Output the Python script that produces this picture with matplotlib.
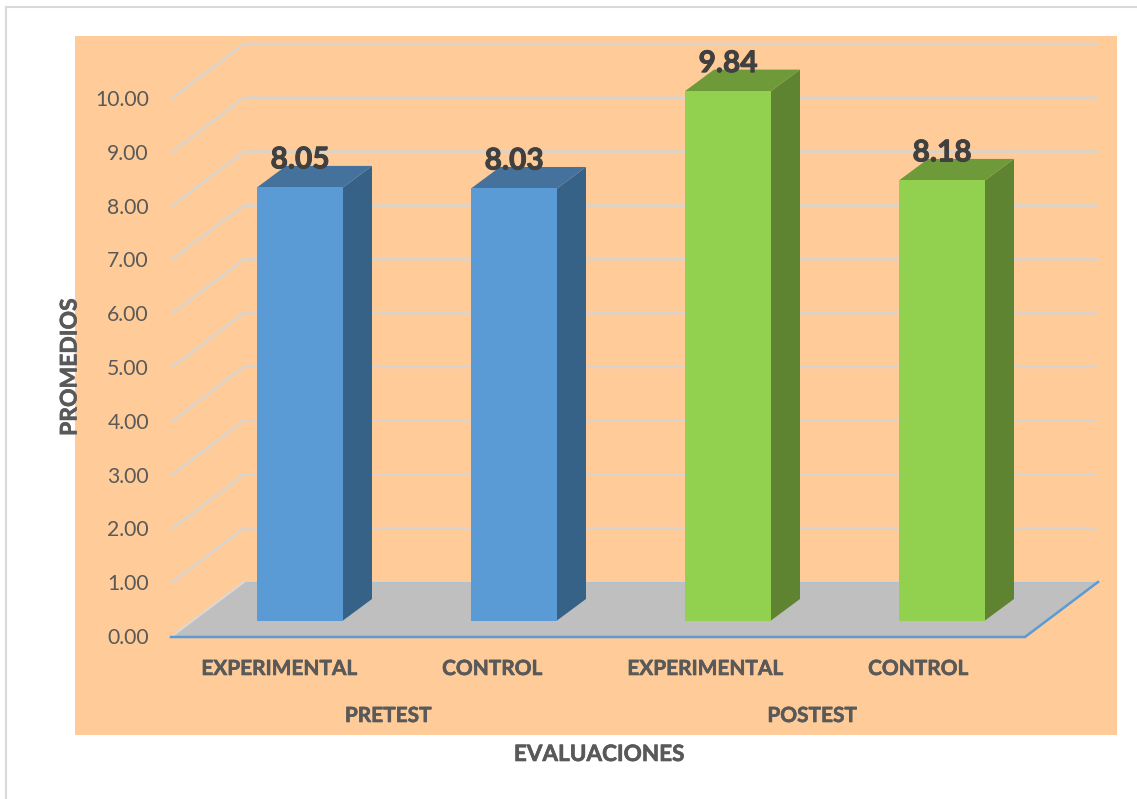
import matplotlib
matplotlib.use("Agg")
import matplotlib.pyplot as plt
import matplotlib.patheffects as pe
from matplotlib.lines import Line2D
from matplotlib.patches import Rectangle

groups = ["PRETEST", "POSTEST"]
categories = ["EXPERIMENTAL", "CONTROL", "EXPERIMENTAL", "CONTROL"]
values = [8.05, 8.03, 9.84, 8.18]
ticks = [0, 1, 2, 3, 4, 5, 6, 7, 8, 9, 10]

front_colors = ["#5B9BD5", "#5B9BD5", "#92D050", "#92D050"]
top_colors = ["#44729D", "#44729D", "#6F9A3A", "#6F9A3A"]
side_colors = ["#376287", "#376287", "#5F8431", "#5F8431"]

W = 1137
H = 799
px_x = 214.0        # pixels per category
px_y = 53.8         # pixels per value unit
x0_px = 300.0
y0_px = 637.0

# floor and bar depth, in data units
floor_dx = 73 / px_x
floor_dy = 55 / px_y
bar_dx = 29 / px_x
bar_dy = 21.5 / px_y
half_w = 43 / px_x
base = 16.5 / px_y
left = (171 - x0_px) / px_x
right = (1025 - x0_px) / px_x


def dx(p):
    return p / px_x


def dy(p):
    return p / px_y


def heavy(color, width=0.45):
    # Lato bold is a bit lighter than the original bold face
    return [pe.withStroke(linewidth=width, foreground=color)]


plt.rcParams["font.family"] = ["Lato", "DejaVu Sans"]
fig = plt.figure(figsize=(W / 100, H / 100), dpi=100, facecolor="white")
ax = fig.add_axes([0, 0, 1, 1])
ax.set_xlim(-x0_px / px_x, (W - x0_px) / px_x)
ax.set_ylim((y0_px - H) / px_y, y0_px / px_y)
ax.axis("off")

# outer chart border and plot background
fig.add_artist(Line2D([6 / W, 6 / W], [0, 1 - 7 / H], color="#D9D9D9", lw=1.5))
fig.add_artist(Line2D([6 / W, 1], [1 - 7 / H, 1 - 7 / H], color="#D9D9D9", lw=1.5))
ax.add_patch(Rectangle(((75 - x0_px) / px_x, (y0_px - 735) / px_y),
                       1042 / px_x, 699 / px_y, fc="#FFCC99", ec="none", zorder=0))

# gridlines on side wall and back wall
for t in ticks[1:]:
    ax.plot([left, left + floor_dx, right + floor_dx],
            [t, t + floor_dy, t + floor_dy],
            color="#DAD3CB", lw=1.9, zorder=1, solid_joinstyle="miter",
            solid_capstyle="butt")

# floor
ax.fill([left, right, right + floor_dx, left + floor_dx],
        [0, 0, floor_dy, floor_dy], color="#BFBFBF", lw=0, zorder=2)
ax.plot([left + floor_dx, right + floor_dx], [floor_dy, floor_dy],
        color="#AFC0D0", lw=0.8, zorder=2)
ax.plot([left, left + floor_dx], [0, floor_dy], color="#D9D9D9", lw=1.4, zorder=2)
ax.plot([left, right, right + floor_dx], [0, 0, floor_dy],
        color="#5B9BD5", lw=1.8, zorder=3, solid_joinstyle="miter")

# bars
for i, v in enumerate(values):
    xl = i - half_w
    xr = i + half_w
    yb = base
    yt = base + v
    ax.fill([xr, xr + bar_dx, xr + bar_dx, xr],
            [yb, yb + bar_dy, yt + bar_dy, yt],
            fc=side_colors[i], ec="none", zorder=4)
    ax.fill([xl, xr, xr + bar_dx, xl + bar_dx],
            [yt, yt, yt + bar_dy, yt + bar_dy],
            fc=top_colors[i], ec="none", zorder=4)
    ax.fill([xl, xr, xr, xl], [yb, yb, yt, yt],
            fc=front_colors[i], ec="none", zorder=5)
    ax.text(i, yt + dy(19), f"{v:.2f}", ha="center", va="baseline",
            fontsize=21.5, fontweight="bold", color="#404040", zorder=6,
            path_effects=heavy("#404040", 0.7))

# value axis labels
for t in ticks:
    ax.text(left - dx(22), t - dy(7), f"{t:.2f}", ha="right", va="baseline",
            fontsize=15.2, color="#595959", zorder=6)

# category and group labels
for i, c in enumerate(categories):
    ax.text(i - dx(21 + i), -dy(38), c, ha="center", va="baseline",
            fontsize=15, fontweight="bold", color="#595959", zorder=6,
            path_effects=heavy("#595959"))
for k, g in enumerate(groups):
    ax.text(2 * k + 0.5 - dx(19 + 4 * k), -dy(85), g, ha="center", va="baseline",
            fontsize=15, fontweight="bold", color="#595959", zorder=6,
            path_effects=heavy("#595959"))

ax.text(dx(599 - x0_px), dy(y0_px - 761), "EVALUACIONES", ha="center", va="baseline",
        fontsize=16.2, fontweight="bold", color="#595959", zorder=6,
        path_effects=heavy("#595959"))
ax.text(dx(70 - x0_px), dy(y0_px - 367), "PROMEDIOS", ha="center", va="center",
        rotation=90, fontsize=16.5, fontweight="bold", color="#595959", zorder=6,
        path_effects=heavy("#595959"))

fig.savefig("out.png", dpi=100)
